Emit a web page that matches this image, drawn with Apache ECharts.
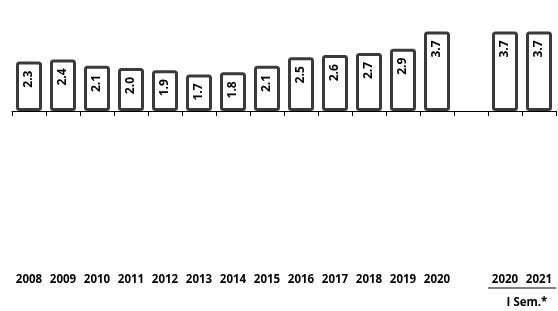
<!DOCTYPE html>
<html>
<head>
<meta charset="utf-8">
<script src="https://cdn.jsdelivr.net/npm/echarts@6/dist/echarts.min.js"></script>
<style>html,body{margin:0;padding:0;background:#fff}#c{width:558px;height:311px}</style>
</head>
<body>
<div id="c"></div>
<script>
var categories = ['2008','2009','2010','2011','2012','2013','2014','2015','2016','2017','2018','2019','2020','','2020','2021'];
var values = [2.3, 2.4, 2.1, 2.0, 1.9, 1.7, 1.8, 2.1, 2.5, 2.6, 2.7, 2.9, 3.7, null, 3.7, 3.7];
var groupLabel = 'I Sem.*';

var chart = echarts.init(document.getElementById('c'));
var font = '"Open Sans", sans-serif';
chart.setOption({
  animation: false,
  grid: {left: 12, right: 2, top: 25, bottom: 200},
  xAxis: {
    type: 'category',
    data: categories,
    axisLine: {lineStyle: {color: '#000', width: 1}},
    axisTick: {show: true, length: 5, lineStyle: {color: '#000'}, alignWithLabel: false},
    axisLabel: {margin: 163, fontFamily: font, fontWeight: 'bold', fontSize: 11.5, color: '#000', interval: 0}
  },
  yAxis: {
    type: 'value', min: 0, max: 4, show: false, splitLine: {show: false}
  },
  series: [{
    type: 'bar',
    data: values,
    barWidth: 26,
    itemStyle: {color: '#fff', borderColor: '#3a3a3a', borderWidth: 3, borderRadius: 2},
    label: {
      show: true,
      position: 'insideTop',
      distance: 9,
      rotate: 90,
      align: 'right',
      verticalAlign: 'middle',
      formatter: function (p) { return p.value == null ? '' : p.value.toFixed(1); },
      fontFamily: font, fontWeight: 'bold', fontSize: 12, color: '#000'
    }
  }],
  graphic: [
    {type: 'line', shape: {x1: 488, y1: 288, x2: 556, y2: 288}, style: {stroke: '#000', lineWidth: 1}},
    {type: 'text', x: 527, y: 303, style: {text: groupLabel, fontFamily: font, fontWeight: 'bold', fontSize: 11.5, fill: '#000', align: 'center', verticalAlign: 'middle'}}
  ]
});
</script>
</body>
</html>
